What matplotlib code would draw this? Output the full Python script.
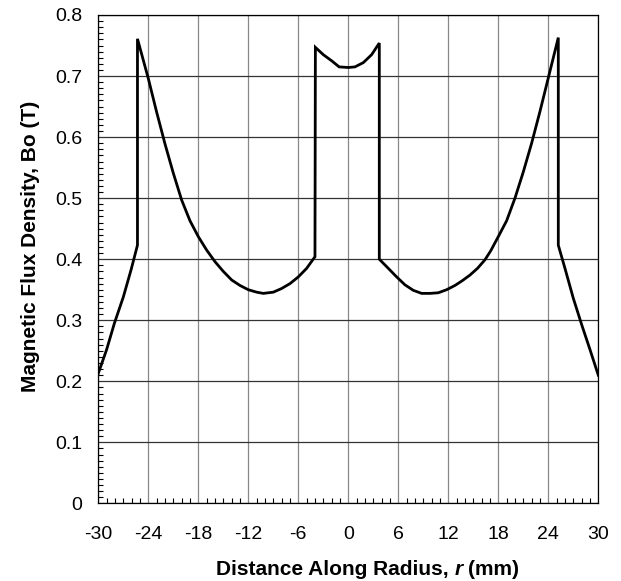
import numpy as np
import matplotlib.pyplot as plt
from matplotlib.ticker import MultipleLocator

plt.rcParams['font.family'] = ['Liberation Sans', 'DejaVu Sans']
plt.rcParams['axes.unicode_minus'] = False

# radius (mm) and flux density (T)
r = [-30, -29, -28.07, -27, -26.06, -25.3, -25.3, -24, -23, -22, -21, -20, -19, -18,
     -17, -16, -15, -14, -13, -12, -11, -10.2, -9, -8, -7, -6, -5, -4.0, -3.95,
     -3, -2, -1.1, 0, 0.8, 1.8, 2.8, 3.72, 3.72,
     4.8, 5.8, 6.8, 7.8, 8.8, 9.8, 10.8, 11.8, 12.8, 13.7, 14.6, 15.5, 16.4, 17.1, 18,
     19, 20, 21, 22, 23, 24, 25.2, 25.2, 26, 27, 28, 29, 30]
b = [0.213, 0.252, 0.295, 0.338, 0.383, 0.423, 0.761, 0.696, 0.641, 0.589, 0.541, 0.497, 0.463, 0.437,
     0.415, 0.396, 0.380, 0.366, 0.357, 0.350, 0.346, 0.344, 0.346, 0.352, 0.360, 0.371, 0.385, 0.404, 0.747,
     0.735, 0.725, 0.715, 0.714, 0.715, 0.722, 0.735, 0.754, 0.400,
     0.385, 0.371, 0.358, 0.349, 0.344, 0.344, 0.345, 0.350, 0.357, 0.365, 0.374, 0.385, 0.399, 0.414, 0.437,
     0.463, 0.500, 0.543, 0.590, 0.642, 0.697, 0.763, 0.423, 0.385, 0.336, 0.293, 0.252, 0.210]

W, H = 621, 581
fig = plt.figure(figsize=(W / 100, H / 100), dpi=100)
ax = fig.add_axes([98.3 / W, 1 - 503.4 / H, 500 / W, 488.4 / H])

ax.plot(r, b, color='black', lw=2.0, solid_joinstyle='miter', zorder=3)

ax.set_xlim(-30, 30)
ax.set_ylim(0, 0.8)
ax.xaxis.set_major_locator(MultipleLocator(6))
ax.xaxis.set_minor_locator(MultipleLocator(1))
ax.yaxis.set_minor_locator(MultipleLocator(0.01))
ax.set_yticks(np.arange(0, 0.81, 0.1))
ax.set_yticklabels(['0', '0.1', '0.2', '0.3', '0.4', '0.5', '0.6', '0.7', '0.8'])

ax.tick_params(which='both', direction='in', top=False, right=False, labelsize=14, width=0.8)
ax.tick_params(which='major', length=0)
ax.tick_params(axis='x', which='major', pad=16)
ax.tick_params(axis='y', which='major', pad=11.5)
ax.tick_params(which='minor', length=3.5)

ax.grid(axis='x', which='major', color='#888888', lw=0.9)
ax.grid(axis='y', which='major', color='#333333', lw=0.9)
for s in ax.spines.values():
    s.set_linewidth(0.9)

# y axis title
fig.text(31 / W, 1 - 246 / H, 'Magnetic Flux Density, Bo (T)', rotation=90,
         fontsize=15, fontweight='bold', ha='center', va='center')

# x axis title with italic r, centred at x = 367.5 px
parts = [('Distance Along Radius,', 'normal'), ('r', 'italic'), ('(mm)', 'normal')]
texts = [fig.text(0, 1 - 575 / H, s, fontsize=15, fontweight='bold', style=st,
                  ha='left', va='baseline') for s, st in parts]
fig.canvas.draw()
rend = fig.canvas.get_renderer()
widths = [t.get_window_extent(rend).width for t in texts]
gap = 0.278 * 15 * 100 / 72
total = sum(widths) + 2 * gap
x0 = 367.5 - total / 2
for t, w in zip(texts, widths):
    t.set_x(x0 / W)
    x0 += w + gap

fig.savefig('out.png', dpi=100)
